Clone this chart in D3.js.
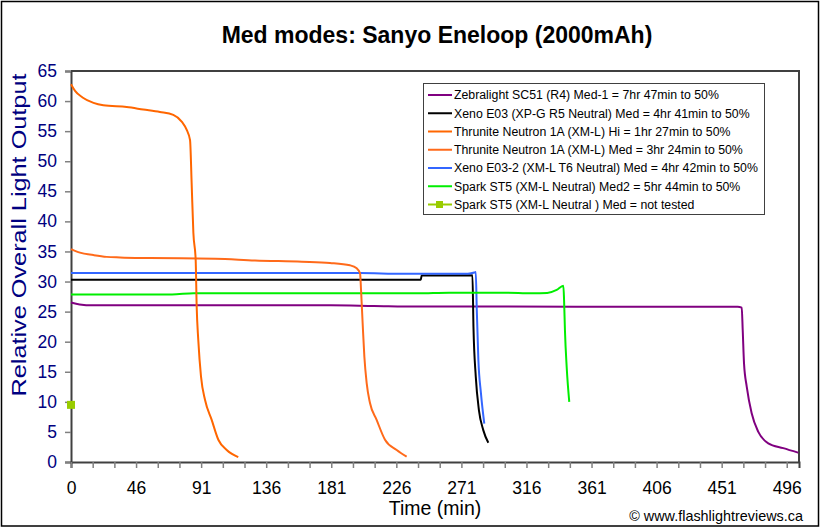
<!DOCTYPE html>
<html><head><meta charset="utf-8">
<script src="https://cdn.jsdelivr.net/npm/d3@7"></script>
<style>
html,body{margin:0;padding:0;background:#fff;}
text{font-family:"Liberation Sans",Arial,sans-serif;}
</style></head>
<body>
<svg id="chart" width="822" height="530"></svg>
<script>
// ---- data ----
const seriesNames = [
  "Zebralight SC51 (R4) Med-1 = 7hr 47min to 50%",
  "Xeno E03 (XP-G R5 Neutral) Med = 4hr 41min to 50%",
  "Thrunite Neutron 1A (XM-L) Hi = 1hr 27min to 50%",
  "Thrunite Neutron 1A (XM-L) Med = 3hr 24min to 50%",
  "Xeno E03-2 (XM-L T6 Neutral) Med = 4hr 42min to 50%",
  "Spark ST5 (XM-L Neutral) Med2 = 5hr 44min to 50%",
  "Spark ST5 (XM-L Neutral ) Med = not tested"
];
const seriesColors = ["#800080","#000000","#FF6600","#FF6A1A","#3366FF","#00EE00","#99CC00"];

const zebraT = [0, 6, 15, 60, 120, 180, 210, 240, 300, 400, 462, 464.8, 465.5, 466.4, 468.3, 471.7, 476.3, 483.2, 493.6, 504];
const zebraV = [26.5, 26.2, 26.05, 26.05, 26.05, 26.05, 25.95, 25.85, 25.85, 25.8, 25.8, 25.65, 21.9, 16.4, 12.5, 8.1, 5.0, 3.1, 2.3, 1.55];

const xenoT = [0, 100, 200, 242.4, 243, 278.2, 278.9, 280.5, 282.7, 285.7, 289.2];
const xenoV = [30.3, 30.3, 30.3, 30.3, 31.0, 31.05, 22.5, 14.2, 8.6, 5.3, 3.2];

const thruHiT = [0, 2.8, 8, 15.6, 22.4, 38.6, 50.1, 61.6, 70.9, 76.7, 80.2, 82.5, 83.6, 84.8, 86.4, 87.1, 88.2, 90.1, 92.9, 97.5, 102.1, 107.9, 115.9];
const thruHiV = [62.8, 61.7, 60.6, 59.7, 59.3, 59.0, 58.6, 58.2, 57.7, 56.6, 55.2, 53.5, 46.4, 38.1, 33.6, 25.8, 20.3, 14.2, 10.3, 7.0, 3.7, 2.0, 0.8];

const thruMedT = [0, 6.2, 15.5, 24.7, 34, 54.7, 100, 127.5, 160, 179.5, 193.3, 198, 200.3, 201, 202.1, 203.3, 204.9, 207.2, 211.8, 217.6, 225.7, 232.6];
const thruMedV = [35.4, 34.8, 34.4, 34.1, 34.0, 33.9, 33.8, 33.5, 33.3, 33.1, 32.7, 32.2, 31.4, 28.6, 23.1, 17.5, 13.1, 9.8, 7.0, 3.7, 2.0, 0.9];

const xeno2T = [0, 60, 200, 230, 275, 279.5, 280.5, 281.2, 282.3, 284.1, 286.4];
const xeno2V = [31.4, 31.4, 31.4, 31.3, 31.3, 31.5, 31.6, 25.3, 17.0, 11.4, 6.4];

const sparkT = [0, 70, 85, 240, 262, 300, 320, 330, 336.6, 341.2, 341.7, 342.3, 343.5, 345.3];
const sparkV = [27.85, 27.85, 28.05, 28.05, 28.15, 28.15, 28.05, 28.1, 28.6, 29.3, 26.9, 21.9, 15.8, 10.0];

const sparkMedT = [0];
const sparkMedV = [9.5];

const yTicks = [0,5,10,15,20,25,30,35,40,45,50,55,60,65];
const xTickLabels = ["0","46","91","136","181","226","271","316","361","406","451","496"];

// ---- layout ----
const svg = d3.select("#chart");
const L = 71, R = 799, T = 71, B = 462;
const x = d3.scaleLinear().domain([0, 504.5]).range([L, R]);
const y = d3.scaleLinear().domain([0, 65]).range([B, T]);

// outer border
svg.append("rect").attr("x",1.5).attr("y",1.5).attr("width",817).attr("height",524.5)
  .attr("fill","#fff").attr("stroke","#000").attr("stroke-width",1.5);

// plot frame (top & right)
svg.append("path").attr("d",`M${L},${T}H${R}V${B}`).attr("fill","none")
  .attr("stroke","#404040").attr("stroke-width",2);

// y axis
const yAxis = svg.append("g").attr("transform",`translate(${L},0)`)
  .call(d3.axisLeft(y).tickValues(yTicks).tickSize(6).tickPadding(8).tickFormat(d3.format("d")));
yAxis.select(".domain").attr("stroke","#404040").attr("stroke-width",2);
yAxis.selectAll(".tick line").attr("stroke","#808080").attr("stroke-width",1.5);
yAxis.selectAll(".tick text").attr("fill","#000080").style("font-size","17.5px")
  .style("font-family","'Liberation Sans',Arial,sans-serif");

// x axis
const labelStep = (+xTickLabels[xTickLabels.length-1]) / (xTickLabels.length-1);
const minorTicks = d3.range(0, 3*(xTickLabels.length-1)+2).map(i => i*labelStep/3).filter(v => v <= 504.5);
const xAxisTicks = svg.append("g").attr("transform",`translate(0,${B})`)
  .call(d3.axisBottom(x).tickValues(minorTicks).tickSize(6).tickFormat(""));
xAxisTicks.select(".domain").attr("stroke","#404040").attr("stroke-width",2);
xAxisTicks.selectAll(".tick line").attr("stroke","#808080").attr("stroke-width",1.5);

const xLabelAxis = svg.append("g").attr("transform",`translate(0,${B})`)
  .call(d3.axisBottom(x).tickValues(xTickLabels.map((d,i)=>i*labelStep)).tickSize(0).tickPadding(20)
    .tickFormat((d,i)=>xTickLabels[i]));
xLabelAxis.select(".domain").remove();
xLabelAxis.selectAll(".tick text").attr("fill","#000").style("font-size","17.5px")
  .style("font-family","'Liberation Sans',Arial,sans-serif");

// series lines
const line = d3.line().x(d=>x(d[0])).y(d=>y(d[1])).curve(d3.curveMonotoneX);
const zipS = (t,v) => t.map((d,i)=>[d,v[i]]);
const lineSeries = [
  {t:zebraT, v:zebraV, c:seriesColors[0]},
  {t:xenoT, v:xenoV, c:seriesColors[1]},
  {t:xeno2T, v:xeno2V, c:seriesColors[4]},
  {t:sparkT, v:sparkV, c:seriesColors[5]},
  {t:thruMedT, v:thruMedV, c:seriesColors[3]},
  {t:thruHiT, v:thruHiV, c:seriesColors[2]}
];
lineSeries.forEach(s => {
  svg.append("path").datum(zipS(s.t,s.v)).attr("d",line)
    .attr("fill","none").attr("stroke",s.c).attr("stroke-width",2)
    .attr("stroke-linejoin","round");
});
// marker series
svg.selectAll(".mk").data(zipS(sparkMedT,sparkMedV)).enter().append("rect")
  .attr("x",d=>x(d[0])-4).attr("y",d=>y(d[1])-4).attr("width",8).attr("height",8)
  .attr("fill",seriesColors[6]);

// legend
const lg = svg.append("g");
lg.append("rect").attr("x",423.5).attr("y",83.5).attr("width",341).attr("height",131)
  .attr("fill","#fff").attr("stroke","#404040").attr("stroke-width",1);
seriesNames.forEach((n,i)=>{
  const yy = 95 + i*18.25;
  lg.append("line").attr("x1",428).attr("x2",452).attr("y1",yy).attr("y2",yy)
    .attr("stroke",seriesColors[i]).attr("stroke-width",2);
  if (i===6) lg.append("rect").attr("x",436).attr("y",yy-3.5).attr("width",7).attr("height",7).attr("fill",seriesColors[i]);
  lg.append("text").attr("x",454).attr("y",yy).attr("dy","0.36em")
    .style("font-size","12.3px").attr("fill","#000").text(n);
});

// titles
svg.append("text").attr("x",437).attr("y",43).attr("text-anchor","middle")
  .style("font-size","23px").style("font-weight","bold").text("Med modes: Sanyo Eneloop (2000mAh)");
svg.append("text").attr("transform","translate(26,235) rotate(-90)").attr("text-anchor","middle")
  .attr("fill","#000080").style("font-size","20px")
  .attr("textLength",323).attr("lengthAdjust","spacingAndGlyphs")
  .text("Relative Overall Light Output");
svg.append("text").attr("x",435).attr("y",515).attr("text-anchor","middle")
  .style("font-size","19.5px").text("Time (min)");
svg.append("text").attr("x",803).attr("y",521).attr("text-anchor","end")
  .style("font-size","14.4px").text("© www.flashlightreviews.ca");
</script>
</body></html>
